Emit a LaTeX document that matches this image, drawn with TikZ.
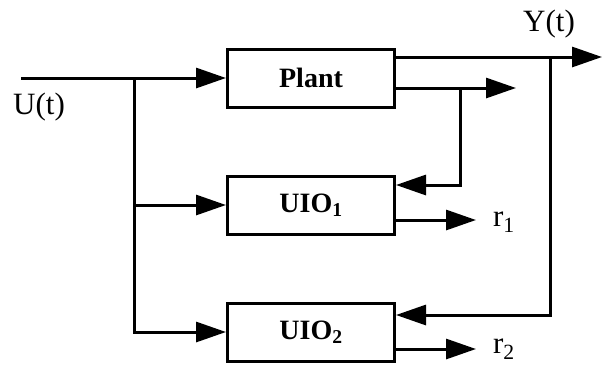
\documentclass[tikz,border=0pt]{standalone}
\usepackage{fontspec}
\setmainfont{Liberation Serif}
\usetikzlibrary{arrows.meta,positioning}
\tikzset{
  block/.style={draw, line width=3pt, minimum width=167pt, minimum height=58pt,
    inner sep=0pt, font=\fontsize{28}{30}\selectfont\bfseries},
  sig/.style={line width=3pt, -{Triangle[length=30pt,width=20pt]}},
  lbl/.style={inner sep=0pt, font=\fontsize{31}{34}\selectfont}
}
\begin{document}
\begin{tikzpicture}[x=1pt,y=-1pt]
\useasboundingbox (0,0) rectangle (604,365);
\node[block] (plant) at (311,78) {Plant};
\node[block] (uio1) at (311,205) {UIO\textsubscript{1}};
\node[block] (uio2) at (311,332) {UIO\textsubscript{2}};
\node[lbl] (ulbl) at (39,107) {U(t)};
\node[lbl] (ylbl) at (549,24) {Y(t)};
\node[lbl] (r1) at (504,222) {r\textsubscript{1}};
\node[lbl] (r2) at (504,349) {r\textsubscript{2}};
\coordinate (uin) at (21,78);
\coordinate (split) at (134,78);
\coordinate (yout) at (602,57);
\coordinate (yaux) at (516,88);
\coordinate (fb1) at (460,88);
\coordinate (fb2) at (550,57);
\coordinate (r1tip) at (476,220);
\coordinate (r2tip) at (476,349);
% input and branches
\draw[sig] (uin) -- (plant.west);
\draw[sig] (split) |- (uio1.west);
\draw[sig] (split) |- (uio2.west);
% plant outputs
\draw[sig] (plant.east |- yout) -- (yout);
\draw[sig] (plant.east |- yaux) -- (yaux);
% feedback to observers
\draw[sig] (fb1) |- ([yshift=20pt]uio1.east);
\draw[sig] (fb2) |- ([yshift=17pt]uio2.east);
% residuals
\draw[sig] (uio1.east |- r1tip) -- (r1tip);
\draw[sig] (uio2.east |- r2tip) -- (r2tip);
\end{tikzpicture}
\end{document}
